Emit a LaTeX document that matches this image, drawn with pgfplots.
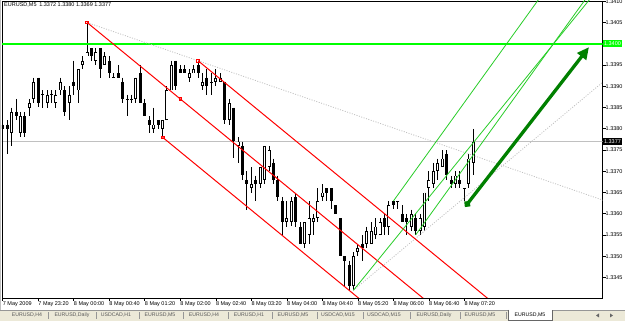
\documentclass[border=0pt]{standalone}
\usepackage{fontspec}
\setmainfont{Liberation Sans}
\usepackage{pgfplots}
\usepackage{pgfplotstable}
\pgfplotsset{compat=1.18}
\usetikzlibrary{arrows.meta}
\definecolor{mtgreen}{RGB}{0,255,0}
\definecolor{pfgreen}{RGB}{40,205,40}
\definecolor{arrowgreen}{RGB}{0,128,0}
\definecolor{silvergrey}{RGB}{192,192,192}
\definecolor{tabbg}{RGB}{236,233,216}
\definecolor{tabline}{RGB}{150,150,150}
\newcommand{\tinyfont}{\fontsize{5.5pt}{6pt}\selectfont}
\newcommand{\tabfont}{\fontsize{5.2pt}{6pt}\selectfont}

\pgfplotstableread{
i o h l c
0 1.3381 1.3382 1.3371 1.3380
1 1.3381 1.3382 1.3374 1.3380
2 1.3379 1.3385 1.3376 1.3384
3 1.3384 1.3387 1.3382 1.3383
4 1.3379 1.3384 1.3378 1.3383
5 1.3383 1.3384 1.3378 1.3379
6 1.3385 1.3387 1.3383 1.3386
7 1.3387 1.3392 1.3386 1.3391
8 1.3392 1.3392 1.3385 1.3386
9 1.3388 1.3389 1.3385 1.3388
10 1.3386 1.3389 1.3385 1.3388
11 1.3388 1.3389 1.3386 1.3388
12 1.3386 1.3389 1.3385 1.3388
13 1.3389 1.3392 1.3388 1.3391
14 1.3389 1.3390 1.3383 1.3384
15 1.3386 1.3390 1.3382 1.3388
16 1.3391 1.3396 1.3388 1.3390
17 1.3389 1.3394 1.3386 1.3394
18 1.3395 1.3397 1.3394 1.3396
19 1.3397 1.3405 1.3397 1.3398
20 1.3399 1.3399 1.3396 1.3397
21 1.3396 1.3399 1.3395 1.3398
22 1.3399 1.3399 1.3392 1.3394
23 1.3395 1.3398 1.3395 1.3397
24 1.3396 1.3397 1.3392 1.3393
25 1.3392 1.3393 1.3392 1.3392
26 1.3393 1.3395 1.3392 1.3392
27 1.3391 1.3392 1.3386 1.3387
28 1.3387 1.3388 1.3383 1.3387
29 1.3387 1.3388 1.3386 1.3387
30 1.3387 1.3392 1.3386 1.3392
31 1.3393 1.3395 1.3386 1.3386
32 1.3386 1.3387 1.3383 1.3383
33 1.3382 1.3383 1.3379 1.3381
34 1.3380 1.3385 1.3379 1.3381
35 1.3382 1.3382 1.3380 1.3381
36 1.3380 1.3382 1.3378 1.3382
37 1.3382 1.3390 1.3382 1.3389
38 1.3389 1.3396 1.3389 1.3395
39 1.3396 1.3396 1.3389 1.3390
40 1.3394 1.3395 1.3393 1.3393
41 1.3394 1.3395 1.3393 1.3393
42 1.3392 1.3394 1.3391 1.3393
43 1.3393 1.3395 1.3393 1.3394
44 1.3395 1.3396 1.3392 1.3393
45 1.3390 1.3393 1.3389 1.3391
46 1.3392 1.3394 1.3388 1.3390
47 1.3391 1.3393 1.3388 1.3391
48 1.3391 1.3394 1.3390 1.3392
49 1.3391 1.3393 1.3391 1.3392
50 1.3391 1.3391 1.3381 1.3382
51 1.3382 1.3387 1.3381 1.3386
52 1.3385 1.3385 1.3373 1.3377
53 1.3376 1.3378 1.3372 1.3377
54 1.3376 1.3377 1.3368 1.3369
55 1.3368 1.3370 1.3361 1.3367
56 1.3366 1.3371 1.3365 1.3367
57 1.3368 1.3369 1.3363 1.3367
58 1.3367 1.3371 1.3366 1.3371
59 1.3368 1.3376 1.3367 1.3376
60 1.3371 1.3376 1.3370 1.3375
61 1.3372 1.3373 1.3367 1.3368
62 1.3368 1.3369 1.3363 1.3364
63 1.3363 1.3364 1.3355 1.3358
64 1.3358 1.3363 1.3357 1.3359
65 1.3358 1.3364 1.3357 1.3363
66 1.3364 1.3365 1.3357 1.3358
67 1.3357 1.3358 1.3353 1.3353
68 1.3353 1.3358 1.3352 1.3358
69 1.3355 1.3363 1.3353 1.3359
70 1.3358 1.3360 1.3355 1.3359
71 1.3359 1.3366 1.3358 1.3363
72 1.3364 1.3367 1.3363 1.3365
73 1.3366 1.3366 1.3363 1.3365
74 1.3366 1.3366 1.3361 1.3363
75 1.3362 1.3362 1.3360 1.3360
76 1.3359 1.3359 1.3350 1.3350
77 1.3350 1.3350 1.3343 1.3349
78 1.3348 1.3349 1.3342 1.3343
79 1.3343 1.3351 1.3342 1.3350
80 1.3351 1.3353 1.3350 1.3352
81 1.3353 1.3355 1.3349 1.3352
82 1.3353 1.3357 1.3352 1.3356
83 1.3353 1.3358 1.3353 1.3356
84 1.3355 1.3359 1.3354 1.3357
85 1.3355 1.3359 1.3355 1.3358
86 1.3359 1.3360 1.3355 1.3357
87 1.3357 1.3363 1.3355 1.3362
88 1.3363 1.3363 1.3361 1.3362
89 1.3363 1.3363 1.3361 1.3363
90 1.3360 1.3362 1.3358 1.3358
91 1.3359 1.3360 1.3355 1.3358
92 1.3357 1.3361 1.3356 1.3360
93 1.3359 1.3360 1.3355 1.3356
94 1.3356 1.3360 1.3355 1.3359
95 1.3357 1.3365 1.3356 1.3365
96 1.3366 1.3370 1.3363 1.3368
97 1.3367 1.3372 1.3366 1.3370
98 1.3370 1.3373 1.3368 1.3372
99 1.3371 1.3375 1.3371 1.3373
100 1.3374 1.3375 1.3368 1.3369
101 1.3368 1.3369 1.3366 1.3367
102 1.3367 1.3370 1.3366 1.3369
103 1.3368 1.3370 1.3366 1.3367
104 1.3366 1.3366 1.3363 1.3366
105 1.3367 1.3374 1.3366 1.3373
106 1.3372 1.3380 1.3369 1.3377
}\candles

\begin{document}
\begin{tikzpicture}
\useasboundingbox (0pt,0pt) rectangle (625pt,321pt);
\clip (0pt,0pt) rectangle (625pt,321pt);
\fill[white] (0pt,0pt) rectangle (625pt,321pt);
\begin{axis}[
  at={(2pt,23pt)}, anchor=south west, scale only axis,
  width=600.5pt, height=297pt,
  xmin=-0.16, xmax=135.1, ymin=1.334018, ymax=1.341006,
  axis line style={line width=0.7pt, black},
  xtick={0,8,...,104},
  xticklabels={7 May 2009,7 May 23:20,8 May 00:00,8 May 00:40,8 May 01:20,8 May 02:00,8 May 02:40,8 May 03:20,8 May 04:00,8 May 04:40,8 May 05:20,8 May 06:00,8 May 06:40,8 May 07:20},
  ytick={1.3345,1.335,1.3355,1.336,1.3365,1.337,1.3375,1.338,1.3385,1.339,1.3395,1.3405,1.341},
  extra y ticks={1.34}, extra y tick labels={},
  xtick pos=bottom, ytick pos=right, yticklabel pos=right,
  tick align=outside, major tick length=3pt,
  tick style={black, line width=0.6pt},
  scaled y ticks=false,
  /pgf/number format/assume math mode=true,
  yticklabel style={font=\tinyfont, anchor=west, inner sep=0pt, /pgf/number format/.cd, fixed, fixed zerofill, precision=4},
  xticklabel style={font=\tinyfont, anchor=north west, inner sep=0pt, yshift=-0.6pt},
]
% bid line
\addplot[silvergrey, line width=0.8pt, forget plot] coordinates {(-1,1.3377) (140,1.3377)};
% wicks
\addplot[draw=none, mark=none, forget plot,
  error bars/.cd, y dir=minus, y explicit, error mark=none,
  error bar style={line width=1pt, draw=black}]
  table[x=i, y=h, y error expr=\thisrow{h}-\thisrow{l}] {\candles};
% bear bodies
\addplot[draw=none, mark=none, forget plot,
  restrict expr to domain={\thisrow{o}-\thisrow{c}}{0.00005:1},
  error bars/.cd, y dir=minus, y explicit, error mark=none,
  error bar style={line width=3pt, draw=black}]
  table[x=i, y=o, y error expr=\thisrow{o}-\thisrow{c}] {\candles};
% bull bodies (outline)
\addplot[draw=none, mark=none, forget plot,
  restrict expr to domain={\thisrow{c}-\thisrow{o}}{0.00005:1},
  error bars/.cd, y dir=minus, y explicit, error mark=none,
  error bar style={line width=3pt, draw=black}]
  table[x=i, y=c, y error expr=\thisrow{c}-\thisrow{o}] {\candles};
% bull bodies (white inside)
\addplot[draw=none, mark=none, forget plot,
  restrict expr to domain={\thisrow{c}-\thisrow{o}}{0.00005:1},
  error bars/.cd, y dir=minus, y explicit, error mark=none,
  error bar style={line width=1.2pt, draw=white, shorten <=0.9pt, shorten >=0.9pt}]
  table[x=i, y=c, y error expr=\thisrow{c}-\thisrow{o}] {\candles};
% doji
\addplot[only marks, mark=-, mark size=1.5pt, mark options={line width=0.9pt, black}, forget plot,
  restrict expr to domain={\thisrow{c}-\thisrow{o}}{-0.00005:0.00005}]
  table[x=i, y=o] {\candles};
% green level
\addplot[mtgreen, line width=1.8pt, forget plot] coordinates {(-1,1.3400) (140,1.3400)};
% grey dotted rays
\addplot[silvergrey, line width=0.8pt, dash pattern=on 1pt off 1.5pt, forget plot] coordinates {(19,1.3405) (135.2,1.33632)};
\addplot[silvergrey, line width=0.8pt, dash pattern=on 1pt off 1.5pt, forget plot] coordinates {(79,1.3342) (135.2,1.3391)};
% red pitchfork
\addplot[red, line width=1pt, forget plot] coordinates {(19,1.3405) (115,1.332273)};
\addplot[red, line width=1pt, forget plot] coordinates {(44,1.3396) (115,1.333515)};
\addplot[red, line width=1pt, forget plot] coordinates {(36,1.3378) (115,1.33103)};
\addplot[only marks, mark=square, mark size=1.3pt, mark options={red, line width=0.6pt, fill=white}, forget plot]
  coordinates {(19,1.3405) (44,1.3396) (36,1.3378) (40,1.3387)};
% green pitchfork
\addplot[pfgreen, line width=0.8pt, forget plot] coordinates {(79,1.3342) (140,1.342045)};
\addplot[pfgreen, line width=0.8pt, forget plot] coordinates {(88,1.3363) (140,1.34384)};
\addplot[pfgreen, line width=0.8pt, forget plot] coordinates {(93,1.3355) (140,1.342315)};
% arrow
\addplot[arrowgreen, line width=3.3pt, line cap=round, {Circle[length=6.5pt]}-{Triangle[length=12pt,width=11pt]}, forget plot]
  coordinates {(104.2,1.33617) (132.05,1.33992)};
\coordinate (lvl) at (axis cs:135.1,1.3400);
\coordinate (bid) at (axis cs:135.1,1.3377);
\end{axis}
% price boxes
\node[fill=mtgreen, text=white, font=\tinyfont, anchor=west, inner xsep=1pt, inner ysep=0pt, minimum height=6.5pt] at ([xshift=0.4pt]lvl) {1.3400};
\node[fill=black, text=white, font=\tinyfont, anchor=west, inner xsep=1pt, inner ysep=0pt, minimum height=6.5pt] at ([xshift=0.4pt]bid) {1.3377};
% header
\node[anchor=west, font=\tinyfont, inner sep=0pt] at (4pt,316pt) {EURUSD,M5\enspace 1.3372 1.3380 1.3369 1.3377};
% window border
\fill[black!25] (0pt,11pt) rectangle (1.3pt,321pt);
% tab bar
\fill[tabbg] (0pt,0pt) rectangle (625pt,11pt);
\draw[tabline, line width=0.6pt] (0pt,11pt) -- (625pt,11pt);
\foreach \x in {48,96,139,183,228,272,317,363,410,460,506} \draw[tabline, line width=0.6pt] (\x pt,2pt) -- (\x pt,9pt);
\fill[white] (508pt,0.5pt) rectangle (552pt,11.3pt);
\draw[black!60, line width=0.6pt] (508pt,11pt) -- (508pt,0.5pt) -- (552pt,0.5pt) -- (552pt,11pt);
\foreach \x/\t in {27/{EURUSD,H4},72/{EURUSD,Daily},116/{USDCAD,H1},160/{EURUSD,M5},204/{EURUSD,H4},249/{EURUSD,H1},293/{EURUSD,M5},338/{USDCAD,M15},384/{USDCAD,M15},434/{EURUSD,Daily},480/{EURUSD,M5}}
  \node[font=\tabfont, text=black!65, inner sep=0pt] at (\x pt,5.5pt) {\t};
\node[font=\tabfont, text=black, inner sep=0pt] at (530pt,5.5pt) {EURUSD,M5};
\fill[black!60] (596pt,5.5pt) -- (599pt,7.5pt) -- (599pt,3.5pt) -- cycle;
\fill[black!60] (613pt,5.5pt) -- (610pt,7.5pt) -- (610pt,3.5pt) -- cycle;
\end{tikzpicture}
\end{document}
